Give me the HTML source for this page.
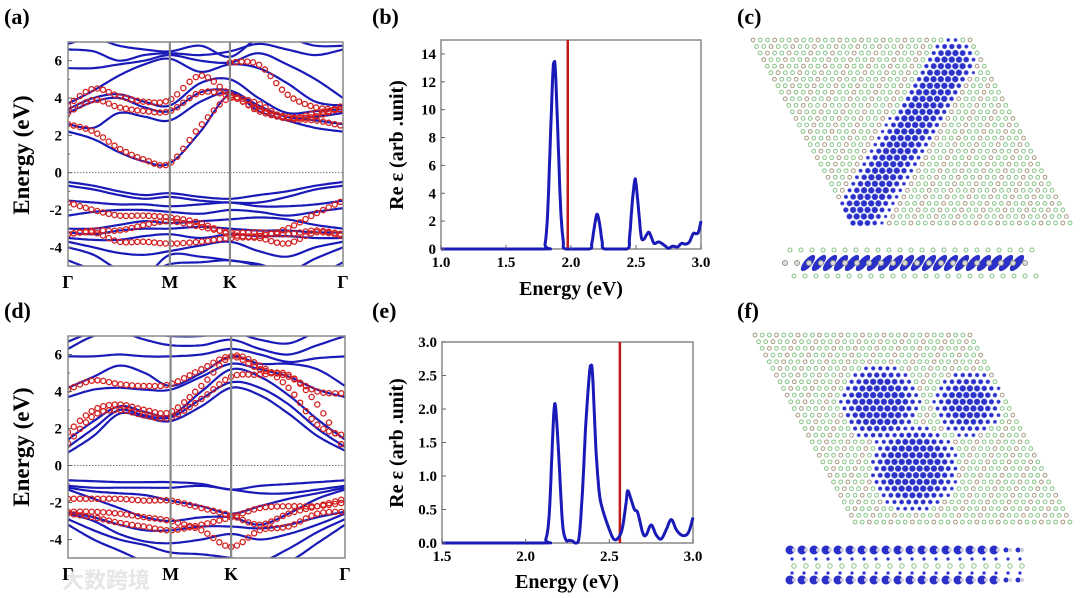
<!DOCTYPE html>
<html><head><meta charset="utf-8"><style>
html,body{margin:0;padding:0;background:#fff;}
svg{display:block;font-family:"Liberation Serif",serif;font-weight:bold;}
</style></head><body>
<svg id="fig" width="1080" height="598" viewBox="0 0 1080 598" xmlns="http://www.w3.org/2000/svg">
<rect width="1080" height="598" fill="#fff"/>
<text x="62" y="588" font-size="22" fill="#e6e6e6" font-family="'Liberation Sans','Noto Sans CJK SC',sans-serif">大数跨境</text>
<g id="layer"></g>
<text x="4" y="24" font-size="22">(a)</text>
<text x="372" y="24" font-size="22">(b)</text>
<text x="737" y="24" font-size="22">(c)</text>
<text x="4" y="318" font-size="22">(d)</text>
<text x="372" y="318" font-size="22">(e)</text>
<text x="737" y="318" font-size="22">(f)</text>
<text x="29" y="155" font-size="23" text-anchor="middle" transform="rotate(-90 29 155)">Energy (eV)</text>
<text x="29" y="447" font-size="23" text-anchor="middle" transform="rotate(-90 29 447)">Energy (eV)</text>
<text x="403" y="145" font-size="20" text-anchor="middle" transform="rotate(-90 403 145)">Re ε (arb .unit)</text>
<text x="403" y="443" font-size="20" text-anchor="middle" transform="rotate(-90 403 443)">Re ε (arb .unit)</text>
<text x="571" y="295" font-size="20" text-anchor="middle">Energy (eV)</text>
<text x="567" y="588" font-size="20" text-anchor="middle">Energy (eV)</text>
</svg>
<script>
// ---------- data ----------
const kNodes = [0,0.25,0.5,0.75,1,1.3,1.59,1.87,2.15,2.43,2.7];
const kLabels = ["Γ","M","K","Γ"];
const kLabelPos = [0,1,1.59,2.7];
const bandTicks = [6,4,2,0,-2,-4];
const bandsA = [
[2.2,1.8,1.1,0.6,0.5,2.2,4.2,3.3,2.8,2.4,2.2],
[2.6,2.4,3.2,3.0,2.8,3.8,4.3,3.5,3.0,2.8,2.6],
[3.2,3.8,4.0,3.5,3.3,4.3,4.4,3.6,3.0,3.0,3.2],
[3.4,4.0,4.2,3.8,3.6,4.8,5.0,4.0,3.2,3.3,3.4],
[3.7,4.4,5.2,5.8,6.1,5.4,5.8,5.6,4.8,3.8,3.6],
[5.6,5.6,5.8,6.0,6.3,6.0,5.9,6.4,5.8,5.0,4.0],
[6.6,6.5,6.0,6.3,6.4,6.3,6.5,6.9,6.6,6.3,6.6],
[6.9,7.2,6.8,6.6,6.5,6.8,6.2,7.2,7.2,6.8,6.8],
[-0.5,-0.7,-1.0,-1.2,-1.1,-1.3,-1.4,-1.2,-1.0,-0.7,-0.5],
[-0.7,-0.9,-1.2,-1.4,-1.3,-1.5,-1.6,-1.6,-1.3,-0.9,-0.7],
[-1.5,-1.6,-1.7,-1.7,-1.8,-1.7,-1.6,-1.8,-1.8,-1.7,-1.5],
[-2.3,-2.1,-2.0,-2.0,-2.1,-2.2,-2.0,-2.1,-2.3,-2.1,-1.9],
[-3.0,-3.0,-2.8,-2.6,-2.7,-2.6,-2.5,-2.4,-2.5,-2.8,-3.0],
[-3.2,-3.3,-3.1,-3.0,-3.0,-2.9,-3.0,-3.1,-3.1,-3.2,-3.2],
[-3.5,-3.6,-3.6,-3.4,-3.3,-3.5,-3.3,-3.4,-3.4,-3.5,-3.5],
[-3.7,-4.0,-4.3,-4.4,-4.2,-3.9,-3.7,-4.2,-4.5,-4.0,-3.7],
[-4.0,-4.4,-5.2,-5.5,-4.4,-4.5,-4.7,-4.9,-5.3,-4.6,-4.0],
[-4.7,-5.2,-5.5,-5.5,-4.9,-4.8,-4.7,-5.0,-5.5,-5.5,-4.8]
];
const dotsA = [
[2.6,2.2,1.3,0.7,0.5,2.5,4.0,3.3,2.9,2.8,2.5],
[3.2,3.9,3.5,3.3,3.3,4.3,4.1,3.4,3.0,3.0,3.6],
[3.6,4.5,4.1,3.8,3.9,5.2,4.2,3.7,2.9,3.2,3.4],
[null,null,null,null,null,null,5.9,5.8,4.2,3.5,3.4],
[-1.6,-2.0,-2.3,-2.3,-2.4,-2.7,-3.3,-3.4,-3.0,-2.2,-1.5],
[-3.3,-3.1,-3.1,-2.8,-2.6,-2.9,-3.2,-3.2,-3.3,-3.1,-3.3],
[-3.3,-3.2,-3.7,-3.7,-3.8,-3.7,-3.5,-3.5,-3.8,-3.2,-3.4]
];
const bandsD = [
[0.7,1.6,2.8,2.6,2.4,3.2,4.2,3.8,2.8,1.6,0.8],
[1.0,2.0,3.0,2.7,2.6,3.6,4.5,4.2,3.3,2.0,1.0],
[1.4,2.4,3.2,2.9,2.7,4.0,5.2,4.8,3.8,2.5,1.4],
[3.7,4.1,4.2,4.1,4.1,4.8,5.5,5.2,4.8,4.1,3.7],
[4.2,4.8,5.4,5.0,4.3,5.0,5.9,5.5,5.5,5.2,4.3],
[5.9,5.9,6.0,5.9,5.9,6.0,6.3,6.0,5.6,5.8,5.9],
[6.3,7.0,7.2,6.8,6.5,6.5,6.8,6.3,6.0,6.5,7.0],
[6.7,7.2,7.3,7.2,7.0,7.0,7.2,6.8,6.6,7.2,7.3],
[-0.8,-0.85,-0.9,-0.9,-0.9,-1.0,-1.3,-1.1,-1.0,-0.9,-0.8],
[-1.1,-1.2,-1.2,-1.2,-1.2,-1.1,-1.3,-1.5,-1.5,-1.3,-1.1],
[-1.2,-1.4,-1.5,-1.6,-1.9,-2.2,-2.6,-2.2,-1.8,-1.5,-1.2],
[-1.3,-1.8,-2.3,-2.8,-3.0,-2.8,-2.8,-3.2,-2.6,-1.8,-1.3],
[-2.5,-2.8,-3.2,-3.5,-3.5,-3.3,-3.3,-3.4,-3.2,-2.8,-2.5],
[-2.6,-3.0,-3.7,-4.1,-4.2,-4.0,-3.7,-4.0,-3.7,-3.2,-2.6],
[-2.9,-3.5,-4.0,-4.3,-4.7,-4.8,-5.0,-5.2,-4.5,-3.6,-2.9],
[-3.2,-4.0,-4.6,-5.2,-5.5,-5.5,-5.3,-5.5,-5.2,-4.2,-3.2]
];
const dotsD = [
[4.1,4.6,4.4,4.3,4.4,5.2,5.9,5.2,4.8,4.0,3.9],
[1.8,3.0,3.3,3.0,2.9,4.3,5.9,5.4,4.2,2.2,1.6],
[1.2,2.7,3.0,2.7,2.6,3.6,4.8,4.9,4.9,3.3,0.8],
[-1.8,-1.8,-1.8,-1.9,-1.9,-2.3,-2.7,-3.2,-2.6,-2.2,-1.8],
[-2.5,-2.5,-2.6,-2.8,-3.0,-3.5,-4.4,-3.5,-3.3,-2.6,-2.5],
[-2.6,-2.8,-3.1,-3.3,-3.5,-3.2,-2.8,-2.3,-2.2,-2.2,-2.0]
];
const specB_E = [1.0,1.78,1.80,1.82,1.84,1.86,1.87,1.88,1.90,1.92,1.94,1.96,2.14,2.16,2.18,2.20,2.22,2.24,2.26,2.43,2.45,2.47,2.49,2.50,2.52,2.54,2.56,2.58,2.60,2.62,2.64,2.67,2.69,2.72,2.75,2.78,2.82,2.85,2.88,2.91,2.94,2.96,2.98,3.0];
const specB_V = [0,0,0.3,2.5,7.5,12.5,13.4,12.8,8,3,0.6,0,0,0.4,1.6,2.5,1.8,0.5,0,0,0.8,3.2,4.9,4.7,2.8,0.9,0.7,1.0,1.2,0.8,0.4,0.5,0.45,0.25,0.05,0.2,0.15,0.4,0.35,0.5,1.1,1.1,1.2,2.0];
const specB_ticksY = [0,2,4,6,8,10,12,14];
const specB_ticksX = [1.0,1.5,2.0,2.5,3.0];
const specB_line = 1.975;
const specE_E = [1.5,2.10,2.12,2.14,2.16,2.17,2.18,2.20,2.22,2.24,2.26,2.28,2.30,2.32,2.34,2.36,2.38,2.39,2.40,2.42,2.44,2.46,2.50,2.53,2.56,2.58,2.60,2.61,2.63,2.65,2.67,2.70,2.72,2.75,2.78,2.81,2.84,2.87,2.90,2.93,2.96,2.98,3.0];
const specE_V = [0,0,0.05,0.4,1.5,2.0,2.0,1.2,0.3,0.05,0.04,0.03,0.0,0.1,0.8,1.8,2.5,2.65,2.5,1.4,0.75,0.5,0.2,0.05,0.1,0.25,0.6,0.78,0.65,0.5,0.45,0.15,0.12,0.27,0.12,0.06,0.2,0.35,0.2,0.12,0.12,0.2,0.38];
const specE_ticksY = [0.0,0.5,1.0,1.5,2.0,2.5,3.0];
const specE_ticksX = [1.5,2.0,2.5,3.0];
const specE_line = 2.563;

// ---------- helpers ----------
const NS = "http://www.w3.org/2000/svg";
const layer = document.getElementById('layer');
function el(tag, attrs, parent){
  const e = document.createElementNS(NS, tag);
  for (const k in attrs) e.setAttribute(k, attrs[k]);
  (parent||layer).appendChild(e); return e;
}
function lin(d0,d1,r0,r1){ return v => r0 + (v-d0)/(d1-d0)*(r1-r0); }
function crSample(pts, steps){
  const out=[];
  for(let i=0;i<pts.length-1;i++){
    const p0=pts[Math.max(i-1,0)], p1=pts[i], p2=pts[i+1], p3=pts[Math.min(i+2,pts.length-1)];
    for(let s=0;s<steps;s++){
      const t=s/steps, t2=t*t, t3=t2*t;
      const f=(a,b,c,d)=>0.5*((2*b)+(-a+c)*t+(2*a-5*b+4*c-d)*t2+(-a+3*b-3*c+d)*t3);
      out.push([f(p0[0],p1[0],p2[0],p3[0]), f(p0[1],p1[1],p2[1],p3[1])]);
    }
  }
  out.push(pts[pts.length-1]); return out;
}

function bandPanel(name, X0,X1,Y0,Y1, bands, dots){
  const sx = lin(0,2.7,X0,X1), sy = lin(-5,7,Y1,Y0);
  const g = el('g',{});
  
  
  const cid = 'clip-'+name;
  const cp = el('clipPath',{id:cid},g); el('rect',{x:X0,y:Y0,width:X1-X0,height:Y1-Y0},cp);
  const inner = el('g',{'clip-path':'url(#'+cid+')'},g);
  el('line',{x1:X0,x2:X1,y1:sy(0),y2:sy(0),stroke:'#777','stroke-width':1,'stroke-dasharray':'1.5,1.5'},inner);
  bands.forEach((b,i)=>{
    const pts = b.map((v,j)=>[sx(kNodes[j]), sy(v)]);
    const s = crSample(pts,10);
    const p = el('path',{d:'M'+s.map(q=>q[0].toFixed(1)+','+q[1].toFixed(1)).join('L'),fill:'none',stroke:'#1a1ab8','stroke-width':2.2},inner);
    
    
  });
  [1,1.59].forEach(k=>el('line',{x1:sx(k),x2:sx(k),y1:Y0,y2:Y1,stroke:'#888','stroke-width':2.2},g));
  dots.forEach((b,i)=>{
    const pts=[]; b.forEach((v,j)=>{ if(v!==null) pts.push([sx(kNodes[j]), sy(v)]); });
    const s = crSample(pts,40);
    const dg = el('g',{fill:'none',stroke:'#d42020','stroke-width':1.3},inner);
    
    
    let last=-99;
    s.forEach(q=>{ if(Math.abs(q[0]-last)>=5.5){ last=q[0]; el('circle',{cx:q[0],cy:q[1],r:2.6},dg);} });
  });
  el('rect',{x:X0,y:Y0,width:X1-X0,height:Y1-Y0,fill:'none',stroke:'#888','stroke-width':1.5},g);
  bandTicks.forEach(t=>{
    el('line',{x1:X0,x2:X0+4,y1:sy(t),y2:sy(t),stroke:'#666'},g);
    const tx = el('text',{x:X0-6,y:sy(t)+5,'font-size':15,'text-anchor':'end'},g);
    tx.textContent = t;
    
    
  });
  [5,3,1,-1,-3].forEach(t=>el('line',{x1:X0,x2:X0+2,y1:sy(t),y2:sy(t),stroke:'#666'},g));
  kLabels.forEach((l,i)=>{
    const tx = el('text',{x:sx(kLabelPos[i]),y:Y1+22,'font-size':18,'text-anchor':'middle'},g);
    tx.textContent = l;
    
    
  });
}

function specPanel(name, X0,X1,Y0,Y1, xmin,xmax,ymax, E,V, tx,ty,lineE, fmt){
  const sx=lin(xmin,xmax,X0,X1), sy=lin(0,ymax,Y1,Y0);
  const g = el('g',{});
  
  
  el('rect',{x:X0,y:Y0,width:X1-X0,height:Y1-Y0,fill:'none',stroke:'#888','stroke-width':1.5},g);
  const lineX = sx(lineE);
  const rl = el('line',{x1:lineX,x2:lineX,y1:Y0,y2:Y1,stroke:'#c01818','stroke-width':2.5},g);
  
  
  const pts = E.map((e,i)=>[sx(e),sy(V[i])]);
  const s = crSample(pts,6).map(q=>[q[0], Math.min(q[1],Y1)]);
  const p = el('path',{d:'M'+s.map(q=>q[0].toFixed(1)+','+q[1].toFixed(1)).join('L'),fill:'none',stroke:'#1a1ab8','stroke-width':3,'stroke-linejoin':'round'},g);
  
  
  ty.forEach(t=>{
    el('line',{x1:X0,x2:X0+4,y1:sy(t),y2:sy(t),stroke:'#666'},g);
    const t1 = el('text',{x:X0-5,y:sy(t)+5,'font-size':15,'text-anchor':'end'},g);
    t1.textContent = fmt(t);
    
    
  });
  tx.forEach(t=>{
    el('line',{x1:sx(t),x2:sx(t),y1:Y1,y2:Y1-4,stroke:'#666'},g);
    const t1 = el('text',{x:sx(t),y:Y1+18,'font-size':15,'text-anchor':'middle'},g);
    t1.textContent = t.toFixed(1);
    
    
  });
}

bandPanel('a',68,343,42,266,bandsA,dotsA);
bandPanel('d',68,345,336,558,bandsD,dotsD);
specPanel('b',441,701,40,249,1,3,15,specB_E,specB_V,specB_ticksX,specB_ticksY,specB_line,t=>String(t));
specPanel('e',442,693,342,543,1.5,3,3,specE_E,specE_V,specE_ticksX,specE_ticksY,specE_line,t=>t.toFixed(1));

// ---------- structure panels ----------
function lattice(name,x0,y0,w,x0b,y1,blueFn){
  const C=31,R=29, dx=w/(C-1), dy=(y1-y0)/(R-1), sh=(x0b-x0)/(R-1);
  const g = el('g',{});
  
  
  for(let r=0;r<R;r++) for(let c=0;c<C;c++){
    const x=x0+c*dx+r*sh, y=y0+r*dy;
    const b = blueFn(x,y);
    if(b>0){
      el('circle',{cx:x,cy:y,r:1.4+1.6*b,fill:'#2a30c8',stroke:'#6670e0','stroke-width':0.6},g);
    } else {
      el('circle',{cx:x,cy:y,r:1.9,fill:'none',stroke:((r+c)%3===0)?'#a89a80':'#86c486','stroke-width':1},g);
    }
  }
}
// (c) elongated blob
lattice('c',753,40,217,853,223,(x,y)=>{
  const ax=952,ay=62,bx=862,by=210;
  const vx=bx-ax,vy=by-ay,L=Math.hypot(vx,vy);
  let t=((x-ax)*vx+(y-ay)*vy)/(L*L); t=Math.max(0,Math.min(1,t));
  const d=Math.hypot(x-(ax+t*vx),y-(ay+t*vy));
  return d<24 ? Math.min(1,(24-d)/12) : 0;
});
// (f) three hexagonal blobs
const blobsF=[[880,403,40],[968,403,34],[914,468,44]];
lattice('f',755,335,215,855,522,(x,y)=>{
  let m=0; blobsF.forEach(b=>{const d=Math.hypot(x-b[0],y-b[1]); if(d<b[2]) m=Math.max(m,Math.min(1,(b[2]-d)/20+0.1));});
  return m;
});
// side views
(function(){
  const g = el('g',{});
  
  
  for(let x=790;x<1035;x+=11){ el('circle',{cx:x,cy:250,r:2,fill:'none',stroke:'#86c486'},g); el('circle',{cx:x+4,cy:276,r:2,fill:'none',stroke:'#86c486'},g); }
  for(let x=808;x<1020;x+=11){ el('ellipse',{cx:x,cy:263,rx:4,ry:10,fill:'#2a30c8',transform:'rotate(40 '+x+' 263)'},g); }
  for(let x=785;x<1035;x+=12){ el('circle',{cx:x,cy:263,r:2.5,fill:'#ddd',stroke:'#998'},g); }
})();
(function(){
  const g = el('g',{});
  
  
  for(let x=790;x<1030;x+=12){
    const big = x<1000 ? 4.5 : 2.5;
    el('circle',{cx:x,cy:550,r:big,fill:'#2a30c8'},g);
    el('circle',{cx:x+4,cy:550,r:2,fill:'#ccd'},g);
    el('circle',{cx:x,cy:580,r:big,fill:'#2a30c8'},g);
    el('circle',{cx:x+4,cy:580,r:2,fill:'#ccd'},g);
    el('circle',{cx:x+2,cy:559,r:1.6,fill:'#2a30c8'},g);
    el('circle',{cx:x+4,cy:566,r:2.2,fill:'none',stroke:'#86c486'},g);
    el('circle',{cx:x+2,cy:573,r:1.6,fill:'#2a30c8'},g);
  }
})();
</script>
</body></html>
